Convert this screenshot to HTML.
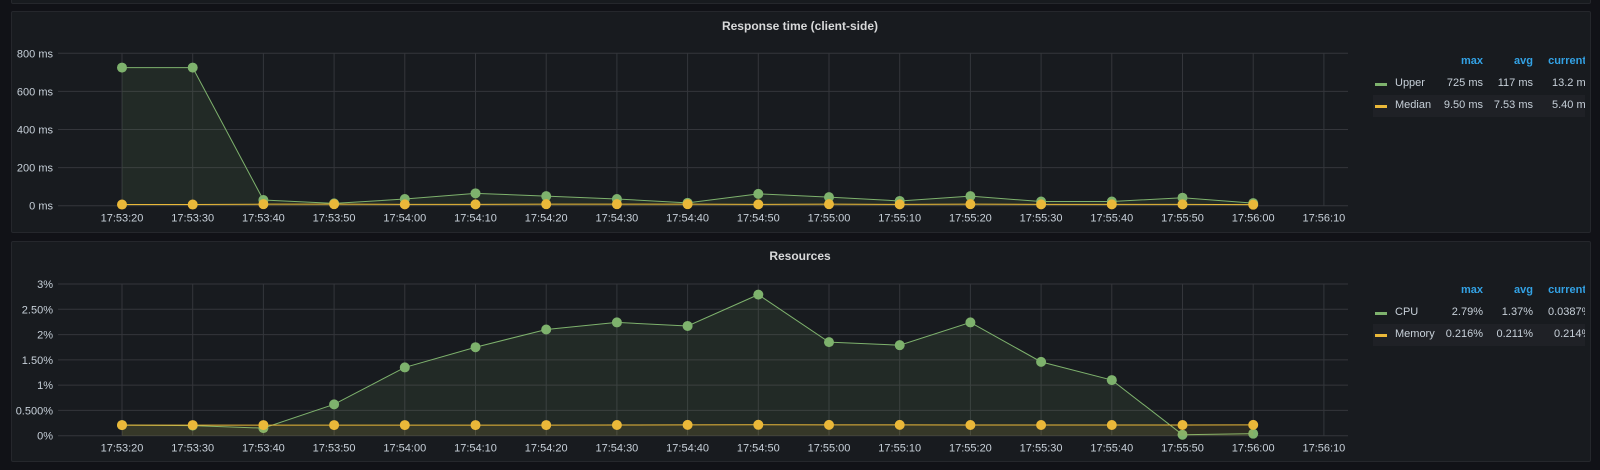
<!DOCTYPE html>
<html><head><meta charset="utf-8"><style>
body{margin:0;width:1600px;height:470px;background:#111217;overflow:hidden;font-family:"Liberation Sans",sans-serif;position:relative}
.panel{position:absolute;background:#181b1f;border:1px solid #25272c;border-radius:2px;box-sizing:border-box}
.title{position:absolute;left:0;right:0;text-align:center;color:#d8d9da;font-size:12px;font-weight:bold}
.leg{position:absolute;left:1373px;width:212px;overflow:hidden;font-size:11px;color:#c7d0d9}
.hdr{color:#33a2e5;font-weight:bold}
.row{position:relative;height:22px}
.row span{position:absolute;top:4px;white-space:nowrap}
svg text{font-family:"Liberation Sans",sans-serif;font-size:11px;fill:#c7d0d9}
</style></head><body>
<div class="panel" style="left:11px;top:-10px;width:1580px;height:14px"></div>
<div class="panel" style="left:11px;top:11px;width:1580px;height:222px"></div>
<div class="panel" style="left:11px;top:241px;width:1580px;height:221px"></div>
<div class="title" style="top:19px">Response time (client-side)</div>
<div class="title" style="top:249px">Resources</div>
<svg id="c" width="1600" height="470" style="position:absolute;left:0;top:0"></svg>

<div class="leg" style="top:51px">
 <div class="row hdr"><span style="right:102px">max</span><span style="right:52px">avg</span><span style="right:-1px">current</span></div>
 <div class="row"><span style="left:2px;top:10px;width:12px;height:3px;background:#7eb26d"></span><span style="left:22px">Upper</span><span style="right:102px">725 ms</span><span style="right:52px">117 ms</span><span style="left:179px">13.2 ms</span></div>
 <div class="row" style="background:#1f2126"><span style="left:2px;top:10px;width:12px;height:3px;background:#eab839"></span><span style="left:22px">Median</span><span style="right:102px">9.50 ms</span><span style="right:52px">7.53 ms</span><span style="left:179px">5.40 ms</span></div>
</div>
<div class="leg" style="top:280px">
 <div class="row hdr"><span style="right:102px">max</span><span style="right:52px">avg</span><span style="right:-1px">current</span></div>
 <div class="row"><span style="left:2px;top:10px;width:12px;height:3px;background:#7eb26d"></span><span style="left:22px">CPU</span><span style="right:102px">2.79%</span><span style="right:52px">1.37%</span><span style="left:175px">0.0387%</span></div>
 <div class="row" style="background:#1f2126"><span style="left:2px;top:10px;width:12px;height:3px;background:#eab839"></span><span style="left:22px">Memory</span><span style="right:102px">0.216%</span><span style="right:52px">0.211%</span><span style="left:181px">0.214%</span></div>
</div>
<script>
const times=["17:53:20","17:53:30","17:53:40","17:53:50","17:54:00","17:54:10","17:54:20","17:54:30","17:54:40","17:54:50","17:55:00","17:55:10","17:55:20","17:55:30","17:55:40","17:55:50","17:56:00","17:56:10"];
const upper=[725,725,30,12,35,65,50,35,15,62,45,25,50,22,22,42,13.2];
const median=[6,6,8,8,7,7,8,8,8,7,8,7,8,7,7,7,5.4];
const rtTicks=[0,200,400,600,800];
const rtTickLabels=["0 ms","200 ms","400 ms","600 ms","800 ms"];
const cpu=[0.21,0.2,0.15,0.62,1.35,1.75,2.1,2.24,2.17,2.79,1.85,1.79,2.24,1.46,1.1,0.02,0.04];
const memory=[0.21,0.21,0.21,0.21,0.21,0.21,0.21,0.212,0.214,0.216,0.214,0.214,0.212,0.212,0.212,0.212,0.214];
const resTicks=[0,0.5,1,1.5,2,2.5,3];
const resTickLabels=["0%","0.500%","1%","1.50%","2%","2.50%","3%"];
const svg=document.getElementById('c');const NS='http://www.w3.org/2000/svg';
function mk(t,a,n){const e=document.createElementNS(NS,t);for(const k in a)e.setAttribute(k,a[k]);


svg.appendChild(e);return e;}
const x=i=>122+i*70.7;
function chart(yTop,yBot,max,ticks,labels,s1,s2,pfx){
 const y=v=>yBot-(v/max)*(yBot-yTop);
 ticks.forEach((t,i)=>{mk('line',{x1:58,x2:1348,y1:y(t),y2:y(t),stroke:'#34363b'},pfx+'-grid-y');
  const tx=mk('text',{x:53,y:y(t)+4,'text-anchor':'end'},pfx+'-y-tick');tx.textContent=labels[i];});
 times.forEach((t,i)=>{mk('line',{x1:x(i),x2:x(i),y1:yTop,y2:yBot,stroke:'#34363b'},pfx+'-grid-x');
  const tx=mk('text',{x:x(i),y:yBot+16,'text-anchor':'middle'},pfx+'-x-tick');tx.textContent=t;});
 [[s1,'#7eb26d'],[s2,'#eab839']].forEach(([s,c],k)=>{
  const pts=s.map((v,i)=>x(i)+','+y(v)).join(' ');
  mk('polygon',{points:x(0)+','+yBot+' '+pts+' '+x(s.length-1)+','+yBot,fill:c,'fill-opacity':0.1},pfx+'-area-'+k);
  mk('polyline',{points:pts,fill:'none',stroke:c,'stroke-width':1},pfx+'-line-'+k);
  s.forEach((v,i)=>mk('circle',{cx:x(i),cy:y(v),r:5,fill:c},pfx+'-point-'+k));
 });
}
chart(53.3,205.7,800,rtTicks,rtTickLabels,upper,median,'rt');
chart(284,435.7,3,resTicks,resTickLabels,cpu,memory,'res');
</script>
</body></html>
